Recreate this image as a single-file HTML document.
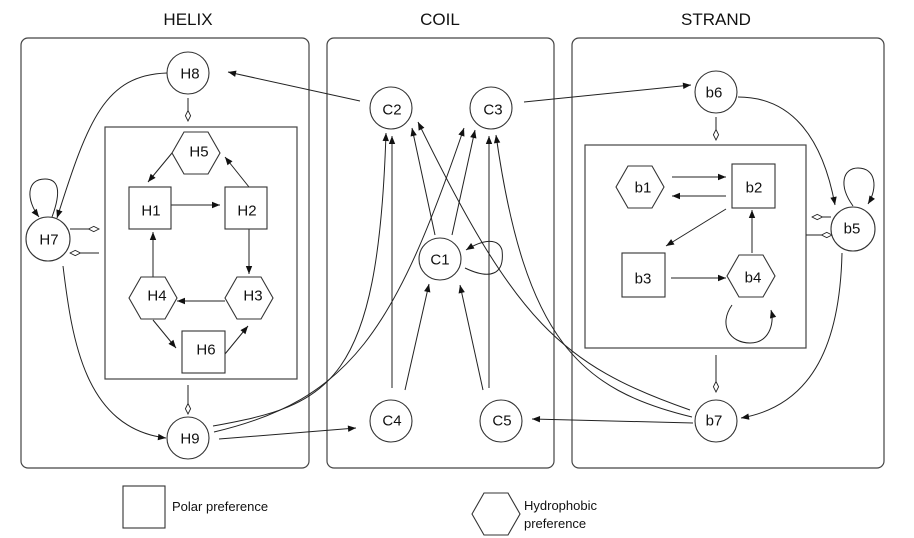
<!DOCTYPE html>
<html><head><meta charset="utf-8"><style>
html,body{margin:0;padding:0;background:#fff;}
svg{display:block;font-family:"Liberation Sans",sans-serif;}
.nd{fill:#fff;stroke:#333;stroke-width:1.1;}
.e{fill:none;stroke:#222;stroke-width:1;}
.lb{font-size:15px;fill:#111;text-anchor:middle;dominant-baseline:central;}
.tt{font-size:17px;fill:#111;text-anchor:middle;}
.pn{fill:none;stroke:#444;stroke-width:1.2;}
</style></head><body>
<svg width="914" height="538" viewBox="0 0 914 538">
<defs>
<marker id="a" viewBox="0 0 10 10" refX="10" refY="5" markerWidth="10" markerHeight="8" markerUnits="userSpaceOnUse" orient="auto"><path d="M0,1 L10,5 L0,9 z" fill="#111"/></marker>
<marker id="o" viewBox="0 0 12 8" refX="12" refY="4" markerWidth="12" markerHeight="7" markerUnits="userSpaceOnUse" orient="auto"><path d="M0,4 L6,1 L12,4 L6,7 z" fill="#fff" stroke="#222" stroke-width="1"/></marker>
</defs>

<text class="tt" x="188" y="25">HELIX</text>
<text class="tt" x="440" y="25">COIL</text>
<text class="tt" x="716" y="25">STRAND</text>

<rect class="pn" x="21" y="38" width="288" height="430" rx="7"/>
<rect class="pn" x="327" y="38" width="227" height="430" rx="7"/>
<rect class="pn" x="572" y="38" width="312" height="430" rx="7"/>
<rect class="pn" x="105" y="127" width="192" height="252"/>
<rect class="pn" x="585" y="145" width="221" height="203"/>

<g>
<path class="e" marker-end="url(#a)" d="M360,101 L228,72"/>
<path class="e" marker-end="url(#a)" d="M167,73 C105,75 88,120 57,218"/>
<path class="e" marker-end="url(#a)" d="M52,217 C62,190 58,179 45,179 C26,179 26,200 39,217"/>
<path class="e" marker-end="url(#o)" d="M188,98 L188,121"/>
<path class="e" marker-end="url(#o)" d="M70,229 L99,229"/>
<path class="e" marker-end="url(#o)" d="M99,253 L70,253"/>
<path class="e" marker-end="url(#a)" d="M63,266 C72,340 85,428 166,438"/>
<path class="e" marker-end="url(#o)" d="M188,385 L188,414"/>
<path class="e" marker-end="url(#a)" d="M213,426 C330,405 378,385 386,133"/>
<path class="e" marker-end="url(#a)" d="M214,432 C350,400 395,330 464,128"/>
<path class="e" marker-end="url(#a)" d="M219,439 L356,428"/>
<path class="e" marker-end="url(#a)" d="M392,388 L392,136"/>
<path class="e" marker-end="url(#a)" d="M405,390 L429,284"/>
<path class="e" marker-end="url(#a)" d="M483,390 L460,285"/>
<path class="e" marker-end="url(#a)" d="M489,388 L489,136"/>
<path class="e" marker-end="url(#a)" d="M435,235 L412,128"/>
<path class="e" marker-end="url(#a)" d="M452,235 L475,130"/>
<path class="e" marker-end="url(#a)" d="M465,268 C490,280 505,275 502,250 C498,237 482,240 466,250"/>
<path class="e" marker-end="url(#a)" d="M690,410 C560,365 515,320 418,122"/>
<path class="e" marker-end="url(#a)" d="M692,417 C580,390 525,340 496,135"/>
<path class="e" marker-end="url(#a)" d="M693,423 L532,419"/>
<path class="e" marker-end="url(#a)" d="M524,102 L691,85"/>
<path class="e" marker-end="url(#a)" d="M738,97 C790,97 822,135 835,205"/>
<path class="e" marker-end="url(#a)" d="M853,206 C838,185 843,168 858,168 C876,168 878,188 868,204"/>
<path class="e" marker-end="url(#o)" d="M716,117 L716,140"/>
<path class="e" marker-end="url(#o)" d="M831,217 L812,217"/>
<path class="e" marker-end="url(#o)" d="M806,235 L832,235"/>
<path class="e" marker-end="url(#a)" d="M842,253 C840,340 815,405 741,418"/>
<path class="e" marker-end="url(#o)" d="M716,355 L716,392"/>
<path class="e" marker-end="url(#a)" d="M672,177 L726,177"/>
<path class="e" marker-end="url(#a)" d="M726,196 L672,196"/>
<path class="e" marker-end="url(#a)" d="M726,209 L666,246"/>
<path class="e" marker-end="url(#a)" d="M671,278 L726,278"/>
<path class="e" marker-end="url(#a)" d="M752,253 L752,210"/>
<path class="e" marker-end="url(#a)" d="M732,305 C718,325 730,343 750,343 C768,343 775,325 771,310"/>
<path class="e" marker-end="url(#a)" d="M172,153 L148,182"/>
<path class="e" marker-end="url(#a)" d="M249,187 L225,157"/>
<path class="e" marker-end="url(#a)" d="M171,205 L220,205"/>
<path class="e" marker-end="url(#a)" d="M249,229 L249,274"/>
<path class="e" marker-end="url(#a)" d="M225,301 L177,301"/>
<path class="e" marker-end="url(#a)" d="M153,277 L153,232"/>
<path class="e" marker-end="url(#a)" d="M153,320 L176,348"/>
<path class="e" marker-end="url(#a)" d="M225,354 L248,326"/>
</g>

<g>
<circle class="nd" cx="188" cy="73" r="21"/><text class="lb" x="190" y="74">H8</text>
<circle class="nd" cx="48" cy="239" r="22"/><text class="lb" x="49" y="240">H7</text>
<circle class="nd" cx="188" cy="438" r="21"/><text class="lb" x="190" y="439">H9</text>
<polygon class="nd" points="172,153 184,132 208,132 220,153 208,174 184,174"/><text class="lb" x="199" y="152">H5</text>
<rect class="nd" x="129" y="187" width="42" height="42"/><text class="lb" x="151" y="211">H1</text>
<rect class="nd" x="225" y="187" width="42" height="42"/><text class="lb" x="247" y="211">H2</text>
<polygon class="nd" points="129,298 141,277 165,277 177,298 165,319 141,319"/><text class="lb" x="157" y="296">H4</text>
<polygon class="nd" points="225,298 237,277 261,277 273,298 261,319 237,319"/><text class="lb" x="253" y="296">H3</text>
<rect class="nd" x="182" y="331" width="43" height="42"/><text class="lb" x="206" y="350">H6</text>
</g>

<g>
<circle class="nd" cx="391" cy="108" r="21"/><text class="lb" x="392" y="110">C2</text>
<circle class="nd" cx="491" cy="108" r="21"/><text class="lb" x="493" y="110">C3</text>
<circle class="nd" cx="440" cy="259" r="21"/><text class="lb" x="440" y="260">C1</text>
<circle class="nd" cx="391" cy="421" r="21"/><text class="lb" x="392" y="421">C4</text>
<circle class="nd" cx="501" cy="421" r="21"/><text class="lb" x="502" y="421">C5</text>
</g>

<g>
<circle class="nd" cx="716" cy="92" r="21"/><text class="lb" x="714" y="93">b6</text>
<circle class="nd" cx="853" cy="229" r="22"/><text class="lb" x="852" y="229">b5</text>
<circle class="nd" cx="716" cy="421" r="21"/><text class="lb" x="714" y="421">b7</text>
<polygon class="nd" points="616,187 628,166 652,166 664,187 652,208 628,208"/><text class="lb" x="643" y="188">b1</text>
<rect class="nd" x="732" y="164" width="43" height="44"/><text class="lb" x="754" y="188">b2</text>
<rect class="nd" x="622" y="253" width="43" height="44"/><text class="lb" x="643" y="279">b3</text>
<polygon class="nd" points="727,276 739,255 763,255 775,276 763,297 739,297"/><text class="lb" x="753" y="278">b4</text>
</g>

<g>
<rect class="nd" x="123" y="486" width="42" height="42"/>
<text x="172" y="511" font-size="13" fill="#111">Polar preference</text>
<polygon class="nd" points="472,514 484,493 508,493 520,514 508,535 484,535"/>
<text x="524" y="510" font-size="13" fill="#111">Hydrophobic</text>
<text x="524" y="528" font-size="13" fill="#111">preference</text>
</g>
</svg>
</body></html>
